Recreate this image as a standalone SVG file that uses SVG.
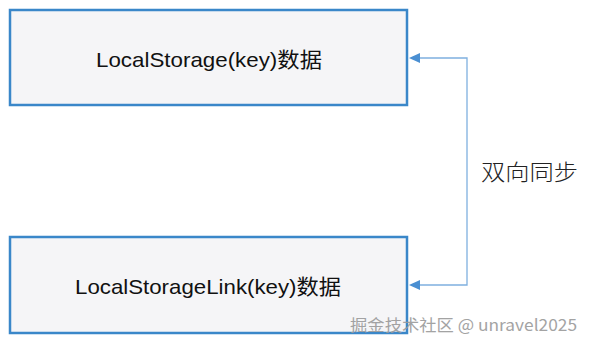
<svg xmlns="http://www.w3.org/2000/svg" width="589" height="345" viewBox="0 0 589 345">
<style>
.box{fill:#f5f5f7;stroke:#3a87c9;stroke-width:2.5}
.lbl{font-family:"Liberation Sans","Noto Sans CJK SC",sans-serif;font-size:21px;fill:#111}
.conn{fill:none;stroke:#7fb0df;stroke-width:1.3}
.side{font-family:"Noto Sans CJK SC",sans-serif;font-size:22px;font-weight:300;fill:#222}
.wm{font-family:"Noto Sans CJK SC",sans-serif;font-size:16px;fill:#9a9a9a;opacity:0.9}
</style>
<g id="node-localstorage">
<rect class="box" x="10" y="10" width="397" height="95"/>
<text class="lbl" x="96" y="67" textLength="226" lengthAdjust="spacingAndGlyphs">LocalStorage(key)数据</text>
</g>
<g id="node-localstoragelink">
<rect class="box" x="10" y="237" width="397" height="96"/>
<text class="lbl" x="75" y="294" textLength="266" lengthAdjust="spacingAndGlyphs">LocalStorageLink(key)数据</text>
</g>
<g id="connectors">
<path class="conn" d="M420,58 H467 V285 H420"/>
<path d="M420,53 L409,58 L420,63 z" fill="#4a8fd2"/>
<path d="M420,280 L409,285 L420,290 z" fill="#4a8fd2"/>
</g>
<g id="label-sync">
<text class="side" x="481" y="180" textLength="97" lengthAdjust="spacingAndGlyphs">双向同步</text>
</g>
<g id="watermark">
<text class="wm" x="350" y="331" textLength="227" lengthAdjust="spacingAndGlyphs">掘金技术社区 @ unravel2025</text>
</g>
</svg>
